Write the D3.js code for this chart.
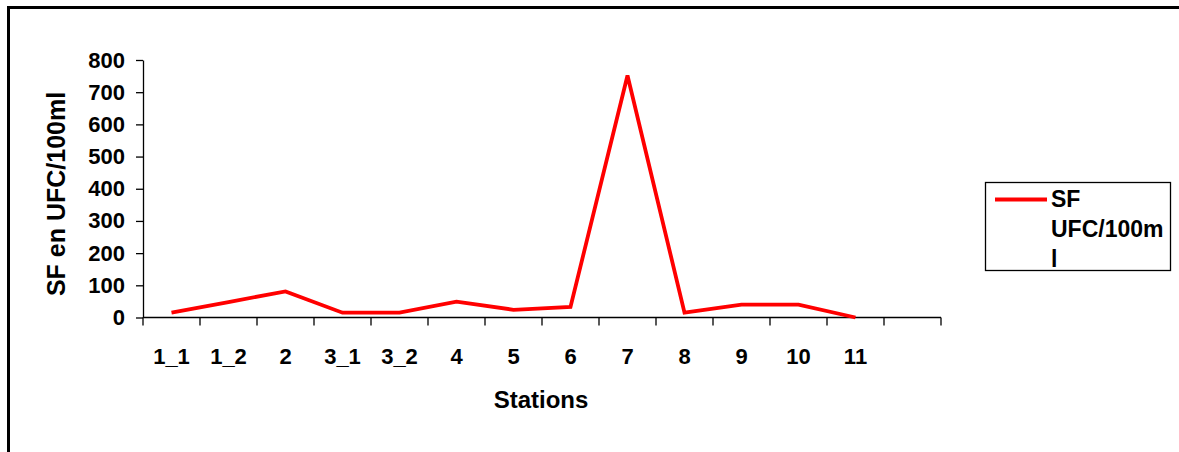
<!DOCTYPE html>
<html>
<head>
<meta charset="utf-8">
<script src="https://cdn.jsdelivr.net/npm/d3@7"></script>
<style>
  html, body { margin: 0; padding: 0; background: #fff; }
  svg { display: block; }
  text { font-family: "Liberation Sans", Arial, sans-serif; font-weight: bold; fill: #000; }
</style>
</head>
<body>
<script>
// Data
const categories = ["1_1", "1_2", "2", "3_1", "3_2", "4", "5", "6", "7", "8", "9", "10", "11", ""];
const stations = ["1_1", "1_2", "2", "3_1", "3_2", "4", "5", "6", "7", "8", "9", "10", "11"];
const sfValues = [15, 48, 81, 15, 15, 49, 24, 33, 752, 15, 40, 40, 0];
const yTicks = [0, 100, 200, 300, 400, 500, 600, 700, 800];
const seriesName = ["SF", "UFC/100m", "l"];

const W = 1179, H = 452;
const svg = d3.select("body").append("svg").attr("width", W).attr("height", H);

// Outer frame
svg.append("rect")
  .attr("x", 8.5).attr("y", 7.5)
  .attr("width", W + 20).attr("height", H + 20)
  .attr("fill", "none").attr("stroke", "#000").attr("stroke-width", 3);

const x0 = 143, x1 = 941, y0 = 317.5, y1 = 60;

const x = d3.scaleBand().domain(categories).range([x0, x1]).paddingInner(0).paddingOuter(0);
const y = d3.scaleLinear().domain([0, 800]).range([y0, y1]);

// Y axis
const yAxis = d3.axisLeft(y).tickValues(yTicks).tickSize(7).tickSizeOuter(0).tickPadding(11);
const gy = svg.append("g").attr("transform", `translate(${x0},0)`).call(yAxis);
gy.attr("font-size", null).attr("font-family", null);
gy.select(".domain").attr("stroke", "#000").attr("stroke-width", 1.3);
gy.selectAll(".tick line").attr("stroke", "#000").attr("stroke-width", 1.3);
gy.selectAll(".tick text").style("font-size", "22px").style("font-weight", "bold").attr("fill", "#000");

// X axis: ticks at band boundaries
const boundaries = categories.map(c => x(c)).concat([x1]);
const gx = svg.append("g");
gx.append("line").attr("x1", x0).attr("x2", x1).attr("y1", y0).attr("y2", y0)
  .attr("stroke", "#000").attr("stroke-width", 1.3);
gx.selectAll("line.tk").data(boundaries).join("line").attr("class", "tk")
  .attr("x1", d => d).attr("x2", d => d).attr("y1", y0).attr("y2", y0 + 8)
  .attr("stroke", "#000").attr("stroke-width", 1.3);
gx.selectAll("text.lbl").data(stations).join("text").attr("class", "lbl")
  .attr("x", d => x(d) + x.bandwidth() / 2)
  .attr("y", 364)
  .attr("text-anchor", "middle")
  .style("font-size", "22px")
  .text(d => d);

// Axis titles
svg.append("text").attr("x", 541).attr("y", 408).attr("text-anchor", "middle")
  .style("font-size", "24px").text("Stations");
svg.append("text").attr("transform", "translate(65,194) rotate(-90)").attr("text-anchor", "middle")
  .style("font-size", "25px").text("SF en UFC/100ml");

// Line
const line = d3.line()
  .x((d, i) => x(stations[i]) + x.bandwidth() / 2)
  .y(d => y(d));
svg.append("path").datum(sfValues)
  .attr("d", line).attr("fill", "none").attr("stroke", "#FF0000")
  .attr("stroke-width", 3.8).attr("stroke-linejoin", "miter");

// Legend
const lg = svg.append("g");
lg.append("rect").attr("x", 985.5).attr("y", 182.5).attr("width", 185).attr("height", 88)
  .attr("fill", "#fff").attr("stroke", "#000").attr("stroke-width", 1.3);
lg.append("line").attr("x1", 995).attr("x2", 1047).attr("y1", 199.5).attr("y2", 199.5)
  .attr("stroke", "#FF0000").attr("stroke-width", 3.8);
lg.selectAll("text").data(seriesName).join("text")
  .attr("x", 1051).attr("y", (d, i) => 207 + i * 30)
  .style("font-size", "23px").text(d => d);
</script>
</body>
</html>
